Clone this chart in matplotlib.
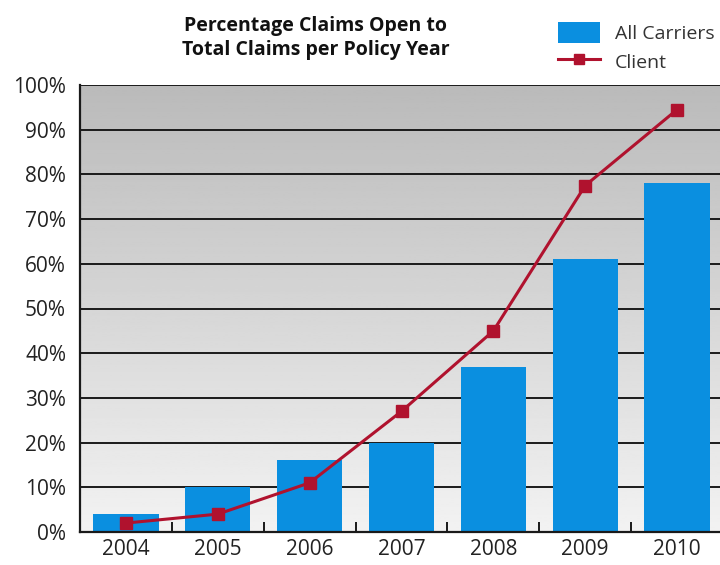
import numpy as np
import matplotlib.pyplot as plt
from matplotlib.patches import Patch
from matplotlib.lines import Line2D

years = ["2004", "2005", "2006", "2007", "2008", "2009", "2010"]
all_carriers = [4, 10, 16, 20, 37, 61, 78]
client = [2, 4, 11, 27, 45, 77.5, 94.5]

plt.rcParams['font.family'] = ['Open Sans', 'DejaVu Sans']

fig = plt.figure(figsize=(7.2, 5.65), dpi=100)
ax = fig.add_axes([80 / 720, 1 - 532 / 565, 643 / 720, 447 / 565])

x = np.arange(len(years))

# gray gradient background, darker at top
grad = np.linspace(0.95, 0.73, 256).reshape(-1, 1)
ax.imshow(grad, cmap="gray", vmin=0, vmax=1, aspect="auto",
          extent=(-0.5, 6.5, 0, 100), origin="lower", zorder=0)

for yv in range(10, 101, 10):
    ax.axhline(yv, color="#1a1a1a", lw=1.4, zorder=1)

ax.bar(x, all_carriers, width=0.71, color="#0a8fe0", zorder=2)
ax.plot(x, client, color="#b0122e", lw=2.2, marker="s", markersize=8,
        zorder=3)

ax.set_xlim(-0.5, 6.5)
ax.set_ylim(0, 100)
ax.set_xticks(x)
ax.set_xticklabels(years)
ax.set_xticks(x[:-1] + 0.5, minor=True)
ax.set_yticks(range(0, 101, 10))
ax.set_yticklabels([f"{v}%" for v in range(0, 101, 10)])
ax.tick_params(axis="x", which="major", length=0, labelsize=15,
               colors="#222222", pad=5)
ax.tick_params(axis="x", which="minor", length=7, width=1.4,
               direction="in", color="#1a1a1a")
ax.tick_params(axis="y", length=0, labelsize=15, colors="#222222", pad=10)

for s in ["top", "right"]:
    ax.spines[s].set_visible(False)
for s in ["left", "bottom"]:
    ax.spines[s].set_linewidth(1.6)
    ax.spines[s].set_color("#1a1a1a")

fig.text(316 / 720, 1 - 38 / 565,
         "Percentage Claims Open to\nTotal Claims per Policy Year",
         ha="center", va="center", fontsize=14, fontweight="bold",
         color="#111111", linespacing=1.2)

handles = [Patch(facecolor="#0a8fe0", edgecolor="none"),
           Line2D([], [], color="#b0122e", lw=2.2, marker="s", markersize=7)]
fig.legend(handles, ["All Carriers", "Client"], loc="upper left",
           bbox_to_anchor=(540 / 720, 1 - 4 / 565), frameon=False,
           fontsize=14, handlelength=2.2, handleheight=1.3,
           labelspacing=0.4, handletextpad=0.75, labelcolor="#333333")

fig.savefig("out.png", dpi=100)
